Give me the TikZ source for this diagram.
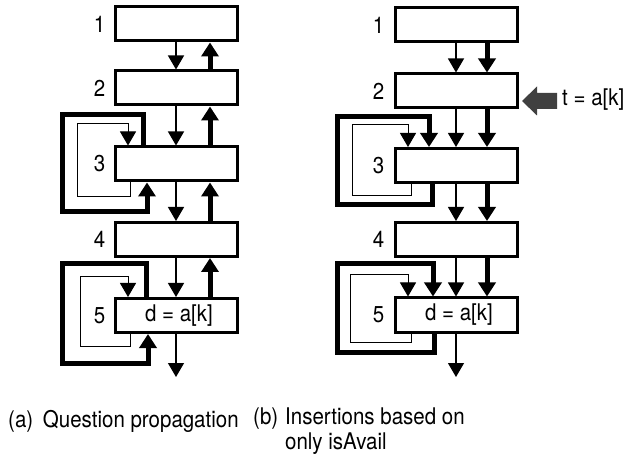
\documentclass[tikz,border=0pt]{standalone}
\usepackage{fontspec}
\usepackage{graphicx}
\setmainfont{TeX Gyre Heros}
\usetikzlibrary{arrows.meta, positioning}
\newcommand{\tall}[1]{\scalebox{1}[1.12]{#1}}

\begin{document}
\begin{tikzpicture}[x=1pt, y=-1pt,
    stage/.style={draw, line width=3pt, minimum width=122pt, minimum height=34pt, inner sep=0pt},
    num/.style={inner sep=0pt},
    flow/.style={line width=1.2pt, -{Triangle[width=16pt,length=14pt]}},
    bigflow/.style={line width=5pt, -{Triangle[width=17pt,length=14pt]}},
    loopin/.style={line width=1pt, -{Triangle[width=16pt,length=14pt]}},
    loopout/.style={line width=5pt, -{Triangle[width=17pt,length=14pt]}},
    font=\fontsize{20.5}{25}\selectfont
]
\useasboundingbox (0,0) rectangle (637,454);

% (a) question propagation
\node[stage] (a1) at (176,24) {};
\node[stage] (a2) at (176,88) {};
\node[stage] (a3) at (176,164) {};
\node[stage] (a4) at (176,239.5) {};
\node[stage] (a5) at (176,315.5) {\hspace{6pt}\tall{d = a[k]}};
\coordinate (aout) at (176,377);
\foreach \i in {1,...,5}
  \node[num, left=8pt of a\i] {\tall{\i}};

\draw[flow] (a1) -- (a2);
\draw[flow] (a2) -- (a3);
\draw[flow] (a3) -- (a4);
\draw[flow] (a4) -- (a5);
\draw[flow] (a5) -- (aout);
\draw[bigflow] ([xshift=34pt]a2.north) -- ([xshift=34pt]a1.south);
\draw[bigflow] ([xshift=34pt]a3.north) -- ([xshift=34pt]a2.south);
\draw[bigflow] ([xshift=34pt]a4.north) -- ([xshift=34pt]a3.south);
\draw[bigflow] ([xshift=34pt]a5.north) -- ([xshift=34pt]a4.south);

% self loops in (a)
\draw[loopout] ([xshift=-33pt]a3.north) -- ++(0,-31) -| (62,212) -| ([xshift=-29pt]a3.south);
\draw[loopin] ([xshift=-46pt]a3.south) -- ++(0,14) -| (77,124) -| ([xshift=-48pt]a3.north);
\draw[loopout] ([xshift=-30pt]a5.north) -- ++(0,-33) -| (62,363) -| ([xshift=-28pt]a5.south);
\draw[loopin] ([xshift=-46pt]a5.south) -- ++(0,12) -| (80,277) -| ([xshift=-48pt]a5.north);

% (b) insertions
\node[stage] (b1) at (456,25) {};
\node[stage] (b2) at (456,91) {};
\node[stage] (b3) at (456,165.5) {};
\node[stage] (b4) at (456,239.5) {};
\node[stage] (b5) at (456,315) {\hspace{6pt}\tall{d = a[k]}};
\coordinate (bout) at (456,377);
\foreach \i in {1,...,5}
  \node[num, left=9pt of b\i] {\tall{\i}};

\draw[flow] (b1) -- (b2);
\draw[flow] (b2) -- (b3);
\draw[flow] (b3) -- (b4);
\draw[flow] (b4) -- (b5);
\draw[flow] (b5) -- (bout);
\draw[bigflow] ([xshift=31pt]b1.south) -- ([xshift=31pt]b2.north);
\draw[bigflow] ([xshift=31pt]b2.south) -- ([xshift=31pt]b3.north);
\draw[bigflow] ([xshift=31pt]b3.south) -- ([xshift=31pt]b4.north);
\draw[bigflow] ([xshift=31pt]b4.south) -- ([xshift=31pt]b5.north);

% self loops in (b)
\draw[loopout] ([xshift=-24pt]b3.south) -- ++(0,21) -| (337,117) -| ([xshift=-27pt]b3.north);
\draw[loopin] ([xshift=-45pt]b3.south) -- ++(0,12) -| (352,125) -| ([xshift=-48pt]b3.north);
\draw[loopout] ([xshift=-22pt]b5.south) -- ++(0,19) -| (337,264) -| ([xshift=-23pt]b5.north);
\draw[loopin] ([xshift=-45pt]b5.south) -- ++(0,9) -| (350,275) -| ([xshift=-48pt]b5.north);

% incoming value
\node[anchor=west, inner sep=0pt] (tval) at (562,100) {\tall{t = a[k]}};
\fill[black!75] ([xshift=-5pt,yshift=-1pt]tval.west) -- ++(0,-8) -- ++(-20,0) -- ++(0,-6.5)
  -- ++(-15,14.5) -- ++(15,14.5) -- ++(0,-6.5) -- ++(20,0) -- cycle;

% captions
\node[anchor=base west, inner sep=0pt] (capa) at (8,427) {\tall{(a)\hspace{4pt} Question propagation}};
\node[anchor=base west, inner sep=0pt] (capb) at (253,424) {\tall{(b)}};
\node[anchor=base west, inner sep=0pt] (capb1) at (285,424) {\tall{Insertions based on}};
\node[anchor=base west, inner sep=0pt] (capb2) at (285,449) {\tall{only isAvail}};

\end{tikzpicture}
\end{document}
